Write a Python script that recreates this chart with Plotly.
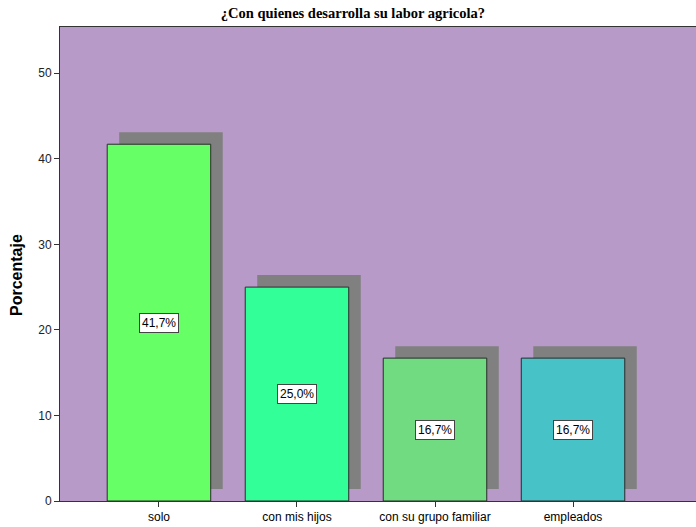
import plotly.graph_objects as go

categories = ["solo", "con mis hijos", "con su grupo familiar", "empleados"]
values = [41.7, 25.0, 16.7, 16.7]
labels = ["41,7%", "25,0%", "16,7%", "16,7%"]
bar_colors = ["#66FF66", "#33FF99", "#70DB80", "#47C2C6"]
y_ticks = [0, 10, 20, 30, 40, 50]

xs = list(range(len(categories)))
shadow_dx = 0.087
shadow_dy = 1.4

fig = go.Figure()
fig.add_trace(go.Bar(
    x=[x + shadow_dx for x in xs], y=values, base=shadow_dy, width=0.75,
    marker=dict(color="#808080", line=dict(width=0)), hoverinfo="skip", showlegend=False))
fig.add_trace(go.Bar(
    x=xs, y=values, width=0.75,
    marker=dict(color=bar_colors, line=dict(color="#2a2a2a", width=1)), showlegend=False))

for x, v, t in zip(xs, values, labels):
    fig.add_annotation(x=x, y=v / 2, text=t, showarrow=False,
                       font=dict(family="Liberation Sans, Arial", size=12, color="black"),
                       bgcolor="white", bordercolor="#444444", borderwidth=1, borderpad=2)

fig.add_annotation(xref="paper", yref="paper", x=-0.084, y=0.477, text="<b>Porcentaje</b>",
                   textangle=-90, showarrow=False,
                   font=dict(family="Liberation Sans, Arial", size=16, color="black"))

fig.update_layout(
    width=696, height=527,
    margin=dict(l=60, r=0, t=27, b=26),
    paper_bgcolor="white", plot_bgcolor="#B89AC8",
    barmode="overlay",
    title=dict(text="<b>¿Con quienes desarrolla su labor agricola?</b>", x=0.507, xanchor="center",
               y=0.975, yanchor="middle",
               font=dict(family="Liberation Serif, Times New Roman", size=14.5, color="black")),
)
fig.update_xaxes(range=[-0.717, 3.891], tickvals=xs, ticktext=categories,
                 ticks="outside", ticklen=5, tickcolor="#333333",
                 showline=True, linecolor="#333333", linewidth=1, mirror=True,
                 showgrid=False, zeroline=False,
                 tickfont=dict(family="Liberation Sans, Arial", size=12, color="black"))
fig.update_yaxes(range=[0, 55.4], tickvals=y_ticks, ticks="outside", ticklen=5, tickcolor="#333333",
                 showline=True, linecolor="#333333", linewidth=1, mirror=True,
                 showgrid=False, zeroline=False,
                 tickfont=dict(family="Liberation Sans, Arial", size=12, color="#222222"))

fig.write_html("out.html", config={"displayModeBar": False},
               post_script="document.body.style.margin='0px';document.body.style.overflow='hidden';")
